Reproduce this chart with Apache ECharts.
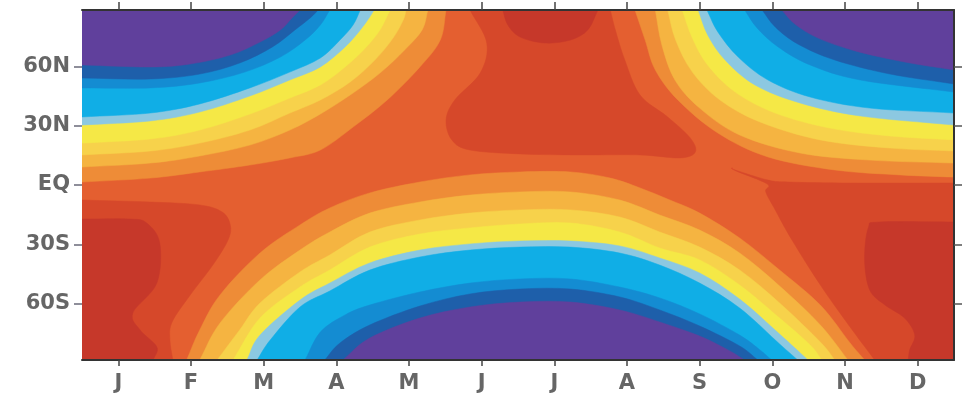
<!DOCTYPE html>
<html>
<head>
<meta charset="utf-8">
<script src="https://cdn.jsdelivr.net/npm/echarts@6/dist/echarts.min.js"></script>
<style>html,body{margin:0;padding:0;background:#fff}#c{width:965px;height:397px}</style>
</head>
<body>
<div id="c"></div>
<script>
// ---------- axis content ----------
const monthLabels = ['J','F','M','A','M','J','J','A','S','O','N','D'];
const monthPositions = [1,2,3,4,5,6,7,8,9,10,11,12];
const latTicks = [60, 30, 0, -30, -60];
const latTickLabels = ['60N', '30N', 'EQ', '30S', '60S'];
const monthRange = [0.5, 12.5];
const latRange = [-88.5, 88.5];

// ---------- contour data: [month, latitude] ----------
// boundary between band k and band k+1 (k = 0..8), northern polar night, Jan -> spring
const nhSpringEdges = [
  [[0.5,60.7],[1.44,59.7],[1.99,61.2],[2.54,65.7],[2.95,72.3],[3.23,78.4],[3.39,84.5],[3.50,88.5]],
  [[0.5,54.1],[1.44,53.6],[2.12,56.1],[2.67,61.7],[3.12,69.8],[3.43,78.4],[3.64,84.5],[3.75,88.5]],
  [[0.5,49.1],[1.44,49.1],[2.12,51.6],[2.74,57.1],[3.23,64.7],[3.57,73.3],[3.78,80.9],[3.91,88.5]],
  [[0.5,34.4],[1.44,36.4],[2.12,41.0],[2.81,49.1],[3.36,57.1],[3.78,64.2],[4.05,73.3],[4.23,80.9],[4.33,88.5]],
  [[0.5,30.3],[1.44,32.4],[2.12,36.9],[2.81,45.0],[3.36,53.1],[3.78,59.7],[4.12,69.8],[4.33,78.4],[4.46,85.0],[4.52,88.5]],
  [[0.5,21.2],[1.44,23.3],[2.12,27.8],[2.81,35.9],[3.36,44.0],[3.78,50.6],[4.12,59.7],[4.40,69.3],[4.60,78.4],[4.74,88.5]],
  [[0.5,15.2],[1.44,17.2],[2.12,21.2],[2.81,27.8],[3.36,36.4],[3.78,43.0],[4.19,52.1],[4.53,63.2],[4.78,74.3],[4.92,83.4],[4.96,88.5]],
  [[0.5,9.1],[1.44,11.1],[2.12,14.7],[2.81,20.2],[3.36,27.8],[3.78,35.9],[4.19,45.5],[4.60,56.6],[4.94,68.3],[5.18,78.4],[5.26,88.5]],
  [[0.5,1.5],[1.44,3.5],[2.12,6.6],[2.81,10.1],[3.36,13.7],[3.78,17.7],[4.23,29.3],[4.70,43.0],[5.15,59.7],[5.43,73.3],[5.51,88.5]]
];
// boundary between band k and band k+1, northern polar night, autumn -> Dec
const nhAutumnEdges = [
  [[10.13,88.5],[10.31,81.4],[10.63,74.3],[11.14,67.8],[11.82,62.2],[12.5,58.2]],
  [[9.86,88.5],[10.04,79.9],[10.35,71.3],[10.86,63.2],[11.62,56.1],[12.5,51.1]],
  [[9.62,88.5],[9.79,79.4],[10.08,69.8],[10.52,60.7],[11.21,53.1],[12.5,47.0]],
  [[9.10,88.5],[9.25,77.4],[9.53,64.7],[9.94,53.1],[10.52,44.5],[11.34,38.9],[12.5,36.4]],
  [[8.98,88.5],[9.11,75.9],[9.35,63.2],[9.76,50.6],[10.38,41.5],[11.21,34.9],[12.5,30.3]],
  [[8.76,88.5],[8.90,74.3],[9.11,60.7],[9.49,47.0],[10.04,36.4],[10.79,28.8],[11.62,24.8],[12.5,22.8]],
  [[8.56,88.5],[8.67,73.3],[8.90,57.1],[9.28,43.0],[9.83,31.9],[10.66,22.8],[11.62,18.7],[12.5,17.2]],
  [[8.39,88.5],[8.48,70.8],[8.66,53.1],[9.00,38.9],[9.55,25.3],[10.38,16.2],[11.34,12.6],[12.5,11.1]],
  [[8.11,88.5],[8.25,73.3],[8.39,58.2],[8.70,43.0],[9.25,26.3],[9.94,14.2],[10.86,7.6],[11.76,5.1],[12.5,4.0]]
];
// boundary between band k and band k+1, southern polar night (mid-year arcs)
const shWinterEdges = [
  [[4.09,-88.5],[4.46,-77.4],[5.15,-67.3],[5.84,-61.7],[6.53,-59.2],[7.22,-59.2],[7.90,-63.2],[8.45,-69.3],[9.00,-76.4],[9.39,-83.4],[9.62,-88.5]],
  [[3.84,-88.5],[4.05,-79.9],[4.46,-70.8],[5.15,-61.2],[5.84,-55.1],[6.53,-52.6],[7.22,-52.6],[7.90,-56.6],[8.45,-63.2],[9.00,-71.3],[9.55,-81.4],[9.80,-88.5]],
  [[3.57,-88.5],[3.78,-74.3],[4.12,-65.7],[4.46,-60.7],[5.15,-54.1],[5.84,-49.6],[6.53,-47.5],[7.22,-47.5],[7.90,-51.6],[8.45,-57.1],[9.00,-65.2],[9.55,-75.9],[9.83,-83.4],[9.99,-88.5]],
  [[2.91,-88.5],[3.09,-78.4],[3.50,-61.7],[3.91,-53.6],[4.46,-43.0],[5.15,-36.4],[5.84,-32.9],[6.53,-31.4],[7.22,-31.4],[7.90,-34.4],[8.45,-40.5],[9.00,-49.6],[9.55,-62.2],[10.10,-80.4],[10.35,-88.5]],
  [[2.77,-88.5],[2.95,-75.9],[3.50,-58.2],[3.91,-49.6],[4.46,-39.4],[5.15,-32.9],[5.84,-29.8],[6.53,-28.3],[7.22,-28.3],[7.90,-30.8],[8.45,-36.9],[9.00,-44.5],[9.55,-57.7],[10.10,-75.4],[10.49,-88.5]],
  [[2.58,-88.5],[2.95,-67.3],[3.50,-51.6],[3.91,-43.0],[4.46,-31.4],[5.15,-24.8],[5.84,-21.7],[6.53,-19.7],[7.22,-19.2],[7.90,-23.8],[8.45,-31.9],[9.00,-37.9],[9.55,-50.6],[10.10,-67.3],[10.52,-80.9],[10.68,-88.5]],
  [[2.36,-88.5],[2.67,-73.3],[2.95,-59.7],[3.50,-44.0],[3.91,-35.4],[4.46,-23.8],[5.15,-17.7],[5.84,-14.2],[6.53,-12.6],[7.22,-12.6],[7.90,-16.2],[8.45,-23.8],[9.00,-31.4],[9.55,-43.0],[10.10,-59.7],[10.66,-79.4],[10.86,-88.5]],
  [[2.12,-88.5],[2.40,-69.8],[2.95,-48.0],[3.50,-32.9],[3.91,-23.8],[4.46,-14.2],[5.15,-8.6],[5.84,-5.1],[6.53,-3.5],[7.22,-3.5],[7.90,-7.6],[8.45,-15.2],[9.00,-22.8],[9.55,-34.4],[10.10,-51.1],[10.66,-70.8],[11.04,-88.5]],
  [[1.94,-88.5],[2.12,-73.3],[2.40,-55.6],[2.95,-34.4],[3.50,-20.2],[3.91,-11.6],[4.46,-4.0],[5.15,1.5],[5.84,5.1],[6.53,6.6],[7.22,6.6],[7.77,3.5],[8.18,-1.5],[8.59,-7.6],[9.00,-14.2],[9.55,-26.8],[10.10,-43.0],[10.66,-60.7],[11.07,-79.9],[11.27,-88.5]]
];
// band 10 (red) areas: northern summer, southern summer (Jan), southern summer (Nov-Dec)
const band10Areas = [
  [[5.84,88.5],[6.07,71.8],[5.98,56.6],[5.63,43.0],[5.51,32.9],[5.59,22.8],[5.84,17.7],[6.53,15.7],[7.35,15.2],[8.18,15.2],[8.73,13.7],[8.94,16.7],[8.87,23.8],[8.56,34.4],[8.18,45.5],[7.97,63.2],[7.84,78.4],[7.77,88.5]],
  [[0.5,-7.6],[1.44,-8.6],[2.12,-10.1],[2.43,-13.7],[2.54,-20.2],[2.51,-27.8],[2.30,-40.5],[1.99,-55.6],[1.74,-69.3],[1.71,-78.4],[1.75,-88.5],[0.5,-88.5]],
  [[12.5,1.0],[11.07,1.0],[10.24,1.5],[9.94,2.5],[9.49,7.6],[9.45,8.6],[9.50,7.1],[9.93,0.5],[9.91,-3.5],[10.04,-12.6],[10.27,-27.8],[10.68,-51.6],[11.10,-73.3],[11.41,-88.5],[12.5,-88.5]]
];
// band 11 (dark red) areas
const band11Areas = [
  [[6.29,88.5],[6.36,80.9],[6.53,74.8],[6.87,71.8],[7.22,73.3],[7.46,78.4],[7.60,88.5]],
  [[0.5,-17.2],[1.16,-17.2],[1.39,-19.2],[1.57,-29.3],[1.53,-49.6],[1.20,-64.7],[1.30,-73.3],[1.53,-81.9],[1.48,-88.5],[0.5,-88.5]],
  [[12.5,-18.7],[11.48,-18.7],[11.32,-21.7],[11.27,-37.9],[11.34,-53.1],[11.55,-60.7],[11.82,-67.3],[11.96,-75.9],[11.89,-83.4],[11.87,-88.5],[12.5,-88.5]]
];

// ---------- styles ----------
const bandColors = ['#60409c','#1e5faa','#148cd2','#10aee6','#8cc8e1','#f5e846',
                    '#f7d24b','#f5b441','#ee8c37','#e45f30','#d6482a','#c6382a'];
const baseBand = 9;

// ---------- build filled regions (painter's order) ----------
const regions = [];
regions.push({band: baseBand, pts: [[monthRange[0],latRange[0]],[monthRange[1],latRange[0]],[monthRange[1],latRange[1]],[monthRange[0],latRange[1]]]});
band10Areas.forEach(a => regions.push({band: 10, pts: a}));
band11Areas.forEach(a => regions.push({band: 11, pts: a}));
for (let k = 8; k >= 0; k--) {
  regions.push({band: k, pts: nhSpringEdges[k].concat([[monthRange[0], latRange[1]]])});
  regions.push({band: k, pts: nhAutumnEdges[k].concat([[monthRange[1], latRange[1]]])});
  regions.push({band: k, pts: shWinterEdges[k]});
}

// segments lying on the frame are drawn straight, contour segments are drawn smoothly
function onSameFrameEdge(a, b) {
  return (a[0] === b[0] && (a[0] === monthRange[0] || a[0] === monthRange[1])) ||
         (a[1] === b[1] && (a[1] === latRange[0] || a[1] === latRange[1]));
}
function buildPath(pts, api) {
  const n = pts.length;
  const q = pts.map(p => api.coord(p));
  const straight = [];
  for (let i = 0; i < n; i++) straight.push(onSameFrameEdge(pts[i], pts[(i + 1) % n]));
  const tan = [];
  for (let i = 0; i < n; i++) {
    const ip = (i - 1 + n) % n, inx = (i + 1) % n;
    const prevStraight = straight[ip], nextStraight = straight[i];
    let tx, ty;
    if (prevStraight && !nextStraight) { tx = q[inx][0] - q[i][0]; ty = q[inx][1] - q[i][1]; }
    else if (nextStraight && !prevStraight) { tx = q[i][0] - q[ip][0]; ty = q[i][1] - q[ip][1]; }
    else { tx = (q[inx][0] - q[ip][0]) / 2; ty = (q[inx][1] - q[ip][1]) / 2; }
    tan.push([tx, ty]);
  }
  let d = 'M' + q[0][0].toFixed(2) + ' ' + q[0][1].toFixed(2);
  for (let i = 0; i < n; i++) {
    const j = (i + 1) % n;
    if (straight[i]) {
      d += ' L' + q[j][0].toFixed(2) + ' ' + q[j][1].toFixed(2);
    } else {
      const c1 = [q[i][0] + tan[i][0] / 3, q[i][1] + tan[i][1] / 3];
      const c2 = [q[j][0] - tan[j][0] / 3, q[j][1] - tan[j][1] / 3];
      d += ' C' + c1[0].toFixed(2) + ' ' + c1[1].toFixed(2) + ' ' + c2[0].toFixed(2) + ' ' +
           c2[1].toFixed(2) + ' ' + q[j][0].toFixed(2) + ' ' + q[j][1].toFixed(2);
    }
  }
  return d + ' Z';
}

const chart = echarts.init(document.getElementById('c'), null, {renderer: 'canvas'});
const axisFont = {color: '#666666', fontSize: 21, fontWeight: 'bold', fontFamily: 'DejaVu Sans'};
const frameLine = {show: true, onZero: false, lineStyle: {color: '#333', width: 2}};

chart.setOption({
  animation: false,
  backgroundColor: '#ffffff',
  grid: {left: 82, right: 11, top: 10, bottom: 37, show: false},
  xAxis: [
    {type: 'value', min: monthRange[0], max: monthRange[1], position: 'bottom', z: 10,
     axisLine: frameLine,
     axisTick: {show: true, customValues: monthPositions, length: 6, lineStyle: {color: '#444', width: 1.5}},
     axisLabel: Object.assign({customValues: monthPositions, margin: 13,
       formatter: v => monthLabels[Math.round(v) - 1]}, axisFont),
     splitLine: {show: false}},
    {type: 'value', min: monthRange[0], max: monthRange[1], position: 'top', z: 10,
     axisLine: frameLine,
     axisTick: {show: true, customValues: monthPositions, length: 8, lineStyle: {color: '#444', width: 1.5}},
     axisLabel: {show: false}, splitLine: {show: false}}
  ],
  yAxis: [
    {type: 'value', min: latRange[0], max: latRange[1], position: 'left', z: 10,
     axisLine: {show: false, onZero: false},
     axisTick: {show: true, customValues: latTicks, length: 8, lineStyle: {color: '#6a6a7a', width: 1.5}},
     axisLabel: Object.assign({customValues: latTicks, margin: 12,
       formatter: v => latTickLabels[latTicks.indexOf(Math.round(v))]}, axisFont),
     splitLine: {show: false}},
    {type: 'value', min: latRange[0], max: latRange[1], position: 'right', z: 10,
     axisLine: frameLine,
     axisTick: {show: true, customValues: latTicks, length: 8, lineStyle: {color: '#555', width: 1.5}},
     axisLabel: {show: false}, splitLine: {show: false}}
  ],
  series: [{
    type: 'custom',
    coordinateSystem: 'cartesian2d',
    xAxisIndex: 0, yAxisIndex: 0,
    clip: true, silent: true,
    data: regions.map(r => ({value: r.pts[0]})),
    renderItem: function (params, api) {
      const r = regions[params.dataIndex];
      return {type: 'path', shape: {pathData: buildPath(r.pts, api)},
              style: {fill: bandColors[r.band], stroke: bandColors[r.band], lineWidth: 0.5}};
    }
  }]
});
</script>
</body>
</html>
